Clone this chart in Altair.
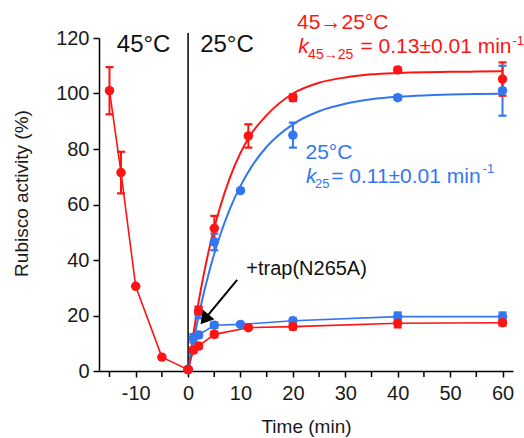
import altair as alt
import pandas as pd

RED = "#ff1414"
BLUE = "#3377f0"
FONT = "Liberation Sans"

# ---- data ----
heat_t = [-15, -12.8, -10, -5, 0]
heat_y = [101, 71.5, 30.5, 5, 0.5]
heat_e = [8.5, 7.5, 0, 0, 0]

red_rec_t = [2, 5, 11.5, 20, 40, 60]
red_rec_y = [21.7, 51.4, 84.7, 98.5, 108.5, 105.2]
red_rec_e = [1.5, 4.5, 4.2, 1.2, 0.8, 6.0]

blue_rec_t = [0, 2, 5, 10, 20, 40, 60]
blue_rec_y = [0.5, 21, 46.5, 65, 85, 98.5, 101]
blue_rec_e = [0, 2, 3, 0, 4.5, 0.8, 9]

red_trap_t = [0, 1, 2, 5, 11.5, 20, 40, 60]
red_trap_y = [0.5, 7.5, 9, 13.2, 15.6, 16, 17.2, 17.4]
red_trap_e = [0, 1, 1, 1, 0.5, 1, 1.5, 1]

blue_trap_t = [0, 1, 2, 5, 10, 20, 40, 60]
blue_trap_y = [0.5, 11.8, 13, 16.5, 16.8, 18.1, 19.6, 19.6]
blue_trap_e = [0, 1.5, 1, 1, 0.5, 1, 1.5, 1.5]

fit_t = [0, 1, 2, 3, 4, 5, 6, 8, 10, 12, 15, 20, 25, 30, 35, 40, 45, 50, 55, 60]
red_fit_y = [0, 13.2, 24.8, 34.9, 43.8, 51.6, 58.4, 69.8, 78.6, 85.3, 92.2, 100.0,
             103.9, 105.8, 106.9, 107.4, 107.7, 107.8, 107.9, 108.0]
blue_fit_y = [0, 10.4, 19.7, 28.1, 35.6, 42.3, 48.3, 58.5, 66.7, 73.3, 80.8, 88.9,
              93.6, 96.3, 97.9, 98.8, 99.3, 99.6, 99.8, 99.9]

x_major = [-10, 0, 10, 20, 30, 40, 50, 60]
x_minor = [-15, -5, 5, 15, 25, 35, 45, 55]
y_ticks = [0, 20, 40, 60, 80, 100, 120]

# ---- tables ----
def series(name, t, y, e, color, order):
    return pd.DataFrame({"s": name, "t": t, "y": y, "e": e, "c": color, "o": order})

pts = pd.concat([
    series("blue_trap", blue_trap_t, blue_trap_y, blue_trap_e, BLUE, 0),
    series("blue_rec", blue_rec_t, blue_rec_y, blue_rec_e, BLUE, 1),
    series("red_trap", red_trap_t, red_trap_y, red_trap_e, RED, 2),
    series("red_rec", red_rec_t, red_rec_y, red_rec_e, RED, 3),
    series("heat", heat_t, heat_y, heat_e, RED, 4),
], ignore_index=True)
pts["lo"] = pts["y"] - pts["e"]
pts["hi"] = pts["y"] + pts["e"]
errs = pts[pts["e"] > 0]

fits = pd.concat([
    pd.DataFrame({"s": "blue_fit", "t": fit_t, "y": blue_fit_y, "c": BLUE}),
    pd.DataFrame({"s": "red_fit", "t": fit_t, "y": red_fit_y, "c": RED}),
], ignore_index=True)

lines = pts[pts["s"].isin(["blue_trap", "red_trap", "heat"])]

xs = alt.Scale(domain=[-17, 62], nice=False, zero=False)
ys = alt.Scale(domain=[0, 120], nice=False, zero=False)

X = alt.X("t:Q", scale=xs, axis=alt.Axis(
    values=x_major, labelOverlap=False, labelFlush=False,
    labelExpr="replace(datum.label, '\u2212', '-')",
    title="Time (min)", titleX=207, titleY=61, titleBaseline="alphabetic",
    tickSize=6, labelPadding=6))
Y = alt.Y("y:Q", scale=ys, axis=alt.Axis(
    values=y_ticks, labelOverlap=False, labelFlush=False,
    title="Rubisco activity (%)", titleX=-72, titleY=155,
    titleBaseline="alphabetic", tickSize=6, labelPadding=4))

minor = alt.Chart(pd.DataFrame({"t": x_minor})).mark_rule(
    color="black", strokeWidth=1.5).encode(
    x=alt.X("t:Q", scale=xs), y=alt.value(333), y2=alt.value(339))

vline = alt.Chart(pd.DataFrame({"t": [0], "y": [0], "y2": [121.8]})).mark_rule(
    color="black", strokeWidth=1.5).encode(x=alt.X("t:Q", scale=xs), y=alt.Y("y:Q", scale=ys), y2="y2:Q")

fit_layer = alt.Chart(fits).mark_line(strokeWidth=2, clip=False, interpolate="monotone").encode(
    x=X, y=Y, detail="s:N", color=alt.Color("c:N", scale=None))

line_layer = alt.Chart(lines).mark_line(strokeWidth=1.6).encode(
    x=alt.X("t:Q", scale=xs), y=alt.Y("y:Q", scale=ys), detail="s:N",
    order="t:Q", color=alt.Color("c:N", scale=None))

err_layer = alt.Chart(errs).mark_rule(strokeWidth=2).encode(
    x=alt.X("t:Q", scale=xs), y=alt.Y("lo:Q", scale=ys), y2="hi:Q",
    color=alt.Color("c:N", scale=None))
cap_hi = alt.Chart(errs).mark_point(shape="stroke", size=64, strokeWidth=2.2, filled=False, opacity=1).encode(
    x=alt.X("t:Q", scale=xs), y=alt.Y("hi:Q", scale=ys), stroke=alt.Color("c:N", scale=None))
cap_lo = alt.Chart(errs).mark_point(shape="stroke", size=64, strokeWidth=2.2, filled=False, opacity=1).encode(
    x=alt.X("t:Q", scale=xs), y=alt.Y("lo:Q", scale=ys), stroke=alt.Color("c:N", scale=None))

pt_layer = alt.Chart(pts).mark_circle(size=90, opacity=1).encode(
    x=alt.X("t:Q", scale=xs), y=alt.Y("y:Q", scale=ys),
    color=alt.Color("c:N", scale=None), order="o:Q")

# ---- annotations (positions in data units) ----
ann = pd.DataFrame([
    {"t": -13.6, "y": 115.0, "txt": "45°C", "c": "#111111", "fs": 24, "st": "normal"},
    {"t": 2.3, "y": 115.0, "txt": "25°C", "c": "#111111", "fs": 24, "st": "normal"},
    {"t": 20.8, "y": 123.2, "txt": "45→25°C", "c": RED, "fs": 21, "st": "normal"},
    {"t": 21.0, "y": 114.6, "txt": "k", "c": RED, "fs": 21, "st": "italic"},
    {"t": 22.9, "y": 112.4, "txt": "45→25", "c": RED, "fs": 14, "st": "normal"},
    {"t": 32.9, "y": 114.6, "txt": "= 0.13±0.01 min", "c": RED, "fs": 21, "st": "normal"},
    {"t": 61.9, "y": 117.6, "txt": "-1", "c": RED, "fs": 13, "st": "normal"},
    {"t": 22.4, "y": 76.4, "txt": "25°C", "c": BLUE, "fs": 21, "st": "normal"},
    {"t": 22.5, "y": 67.7, "txt": "k", "c": BLUE, "fs": 21, "st": "italic"},
    {"t": 24.2, "y": 65.9, "txt": "25", "c": BLUE, "fs": 13, "st": "normal"},
    {"t": 27.3, "y": 67.7, "txt": "= 0.11±0.01 min", "c": BLUE, "fs": 21, "st": "normal"},
    {"t": 56.2, "y": 71.4, "txt": "-1", "c": BLUE, "fs": 13, "st": "normal"},
    {"t": 11.1, "y": 34.6, "txt": "+trap(N265A)", "c": "#111111", "fs": 20, "st": "normal"},
])
text_layers = []
for st in ["normal", "italic"]:
    sub = ann[ann["st"] == st]
    text_layers.append(alt.Chart(sub).mark_text(
        align="left", baseline="alphabetic", font=FONT, fontStyle=st).encode(
        x=alt.X("t:Q", scale=xs), y=alt.Y("y:Q", scale=ys), text="txt:N",
        color=alt.Color("c:N", scale=None), size=alt.Size("fs:Q", scale=None)))

arrow_line = alt.Chart(pd.DataFrame({"t": [9.36], "y": [32.8], "t2": [3.88], "y2": [20.3]})).mark_rule(
    color="black", strokeWidth=2).encode(
    x=alt.X("t:Q", scale=xs), y=alt.Y("y:Q", scale=ys), x2="t2:Q", y2="y2:Q")
arrow_head = alt.Chart(pd.DataFrame({"t": [3.15], "y": [18.6]})).mark_point(
    shape="triangle-up", angle=219.5, filled=True, size=220, color="black", opacity=1).encode(
    x=alt.X("t:Q", scale=xs), y=alt.Y("y:Q", scale=ys))

chart = alt.layer(
    fit_layer, minor, vline, line_layer, err_layer, cap_hi, cap_lo, pt_layer,
    arrow_line, arrow_head, *text_layers
).properties(
    width=414, height=333,
    background="white",
    autosize=alt.AutoSizeParams(type="none"),
    padding={"left": 99, "top": 38, "right": 11, "bottom": 67},
).configure_view(stroke=None).configure_axis(
    grid=False, domainColor="black", domainWidth=1.5, tickColor="black", tickWidth=1.5,
    labelFont=FONT, labelFontSize=20, labelColor="#1a1a1a",
    titleFont=FONT, titleFontSize=19, titleColor="#1a1a1a", titleFontWeight="normal",
)

chart.save("out.html", embed_options={"renderer": "svg", "actions": False})
